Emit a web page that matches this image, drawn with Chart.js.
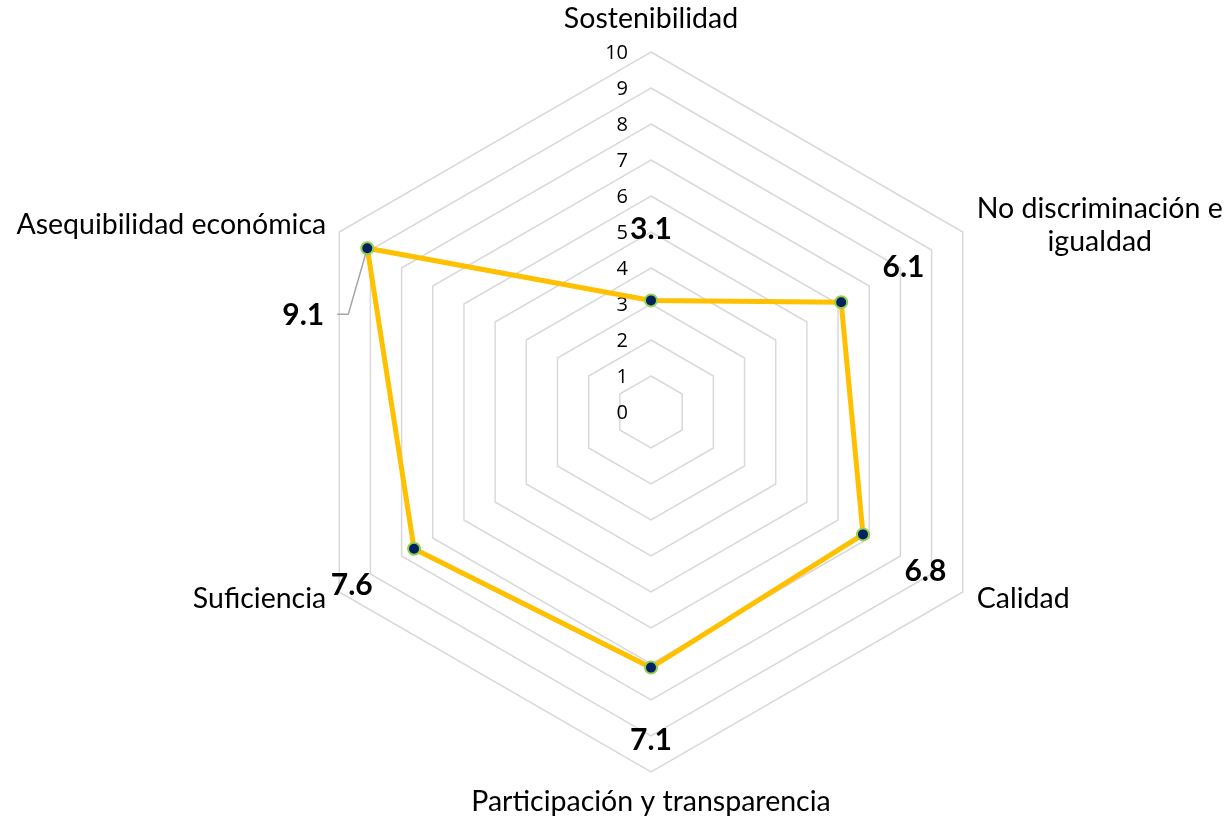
<!DOCTYPE html>
<html>
<head>
<meta charset="utf-8">
<script src="https://cdn.jsdelivr.net/npm/chart.js@4"></script>
<style>
  html, body { margin: 0; padding: 0; background: #fff; }
  #wrap { width: 1230px; height: 822px; }
</style>
</head>
<body>
<div id="wrap"><canvas id="radar"></canvas></div>
<script>
// datos del gráfico
const categorias = ['Sostenibilidad', ['No discriminación e', 'igualdad'], 'Calidad',
    'Participación y transparencia', 'Suficiencia', 'Asequibilidad económica'];
const puntajes = [3.1, 6.1, 6.8, 7.1, 7.6, 9.1];
const escala = ['0', '1', '2', '3', '4', '5', '6', '7', '8', '9', '10'];

const fuenteEtiqueta = '28.5px Lato';
const fuenteValor = 'bold 30px Lato';
const fuenteEscala = '20px "Open Sans"';

const etiquetas = {
    id: 'etiquetas',
    beforeDatasetsDraw(chart) {
        const r = chart.scales.r;
        const ctx = chart.ctx;
        ctx.save();
        // marcas de la escala, a la izquierda del eje
        ctx.font = fuenteEscala;
        ctx.fillStyle = '#000';
        ctx.textAlign = 'right';
        ctx.textBaseline = 'middle';
        r.ticks.forEach((t, i) => {
            const y = r.yCenter - r.getDistanceFromCenterForValue(t.value);
            ctx.fillText(escala[i], r.xCenter - 23, y + 1);
        });
        // linea guia del valor que no cabe
        puntajes.forEach((v, i) => {
            if (v + 2 <= r.max) return;
            const p = r.getPointPositionForValue(i, v);
            const lx = p.x - 64, ly = p.y + 66;
            ctx.strokeStyle = '#a6a6a6';
            ctx.lineWidth = 1.5;
            ctx.beginPath();
            ctx.moveTo(lx + 34, ly);
            ctx.lineTo(lx + 45, ly);
            ctx.lineTo(p.x, p.y);
            ctx.stroke();
        });
        ctx.restore();
    },
    afterDatasetsDraw(chart) {
        const r = chart.scales.r;
        const ctx = chart.ctx;
        ctx.save();
        ctx.fillStyle = '#000';
        ctx.textBaseline = 'middle';
        // nombres de las categorias
        ctx.font = fuenteEtiqueta;
        categorias.forEach((c, i) => {
            const lineas = Array.isArray(c) ? c : [c];
            const a = r.getPointPositionForValue(i, r.max);
            const dx = a.x - r.xCenter;
            const arriba = a.y < r.yCenter;
            let x, y;
            if (Math.abs(dx) < 1) {
                x = a.x;
                y = a.y + (arriba ? -33 : 30);
            } else {
                const ancho = Math.max(...lineas.map(l => ctx.measureText(l).width));
                x = dx > 0 ? a.x + 14 + ancho / 2 : a.x - 13 - ancho / 2;
                y = a.y + (arriba ? -7 : 7);
            }
            ctx.textAlign = 'center';
            const alto = 33;
            lineas.forEach((l, k) => {
                ctx.fillText(l, x, y + (k - (lineas.length - 1) / 2) * alto);
            });
        });
        // valores
        ctx.font = fuenteValor;
        ctx.textAlign = 'center';
        puntajes.forEach((v, i) => {
            let p;
            if (v + 2 <= r.max) {
                p = r.getPointPositionForValue(i, v + 2);
            } else {
                const q = r.getPointPositionForValue(i, v);
                p = { x: q.x - 64, y: q.y + 66 };
            }
            ctx.fillText(v.toFixed(1), p.x, p.y + 1);
        });
        ctx.restore();
    }
};

new Chart(document.getElementById('radar'), {
    type: 'radar',
    data: {
        labels: categorias,
        datasets: [{
            label: 'Puntaje',
            data: puntajes,
            borderColor: '#ffc000',
            borderWidth: 5,
            backgroundColor: 'rgba(0,0,0,0)',
            fill: false,
            pointRadius: 6,
            pointBorderWidth: 2,
            pointBackgroundColor: '#002060',
            pointBorderColor: '#92d050',
            tension: 0
        }]
    },
    options: {
        responsive: true,
        maintainAspectRatio: false,
        animation: false,
        layout: { padding: { top: 52, bottom: 49, left: 72, right: 0 } },
        plugins: {
            legend: { display: false },
            tooltip: { enabled: false }
        },
        scales: {
            r: {
                min: 0,
                max: 10,
                ticks: { stepSize: 1, display: false },
                grid: { color: '#d9d9d9', lineWidth: 1.5 },
                angleLines: { display: false },
                pointLabels: { display: false }
            }
        }
    },
    plugins: [etiquetas]
});
</script>
</body>
</html>
